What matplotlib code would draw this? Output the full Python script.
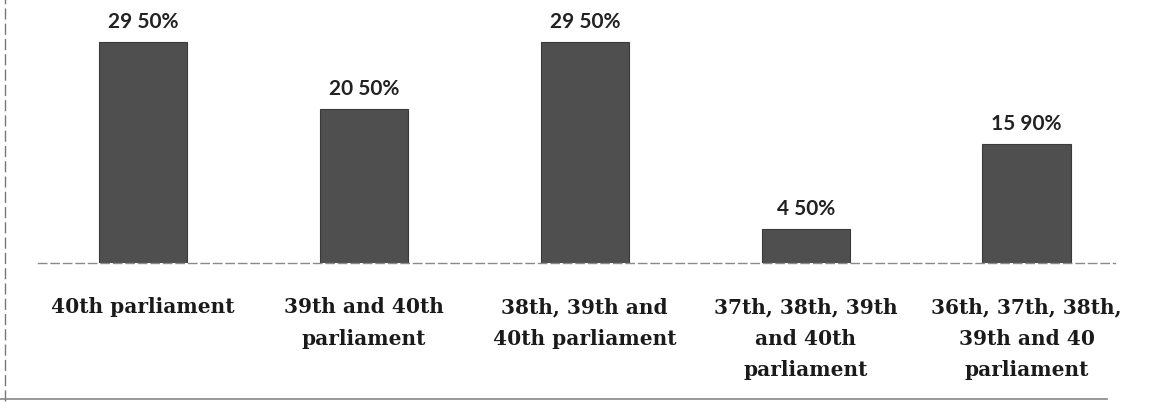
import matplotlib.pyplot as plt
from matplotlib.lines import Line2D

# data
categories = ["40th parliament",
              "39th and 40th\nparliament",
              "38th, 39th and\n40th parliament",
              "37th, 38th, 39th\nand 40th\nparliament",
              "36th, 37th, 38th,\n39th and 40\nparliament"]
values = [29.5, 20.5, 29.5, 4.5, 15.9]
value_labels = ["29 50%", "20 50%", "29 50%", "4 50%", "15 90%"]

fig = plt.figure(figsize=(11.65, 4.14), dpi=100)
ax = fig.add_axes([0.0326, 0.3623, 0.9245, 0.6377])

x = list(range(len(values)))
ax.bar(x, values, width=0.4, color="#4f4f4f", edgecolor="#3a3a3a", linewidth=0.8, zorder=2)

for xi, v, lab in zip(x, values, value_labels):
    ax.annotate(lab, (xi, v), xytext=(0, 8), textcoords="offset points",
                ha="center", va="bottom", fontsize=15, fontweight="bold",
                family="Lato", color="#222222")

ax.set_xlim(-0.475, 4.40)
ax.set_ylim(0, 35.2)
ax.set_xticks(x)
ax.set_xticklabels(categories, fontsize=14.5, fontweight="bold",
                   family="DejaVu Serif", color="#1a1a1a", linespacing=1.7)
ax.tick_params(axis="x", length=0, pad=24)
ax.set_yticks([])

for s in ["top", "right", "left"]:
    ax.spines[s].set_visible(False)
ax.spines["bottom"].set_color("#8a8a8a")
ax.spines["bottom"].set_linestyle((0, (6, 3)))
ax.spines["bottom"].set_linewidth(1.0)

# scanned page frame: left dashed edge and bottom rule
fig.add_artist(Line2D([0.0045, 0.0045], [0.03, 1.0], transform=fig.transFigure,
                      color="#777777", linewidth=1.0, linestyle=(0, (8, 3))))
fig.add_artist(Line2D([0.0, 0.95], [0.034, 0.034], transform=fig.transFigure,
                      color="#888888", linewidth=1.2))

fig.savefig("out.png", dpi=100, facecolor="white")
